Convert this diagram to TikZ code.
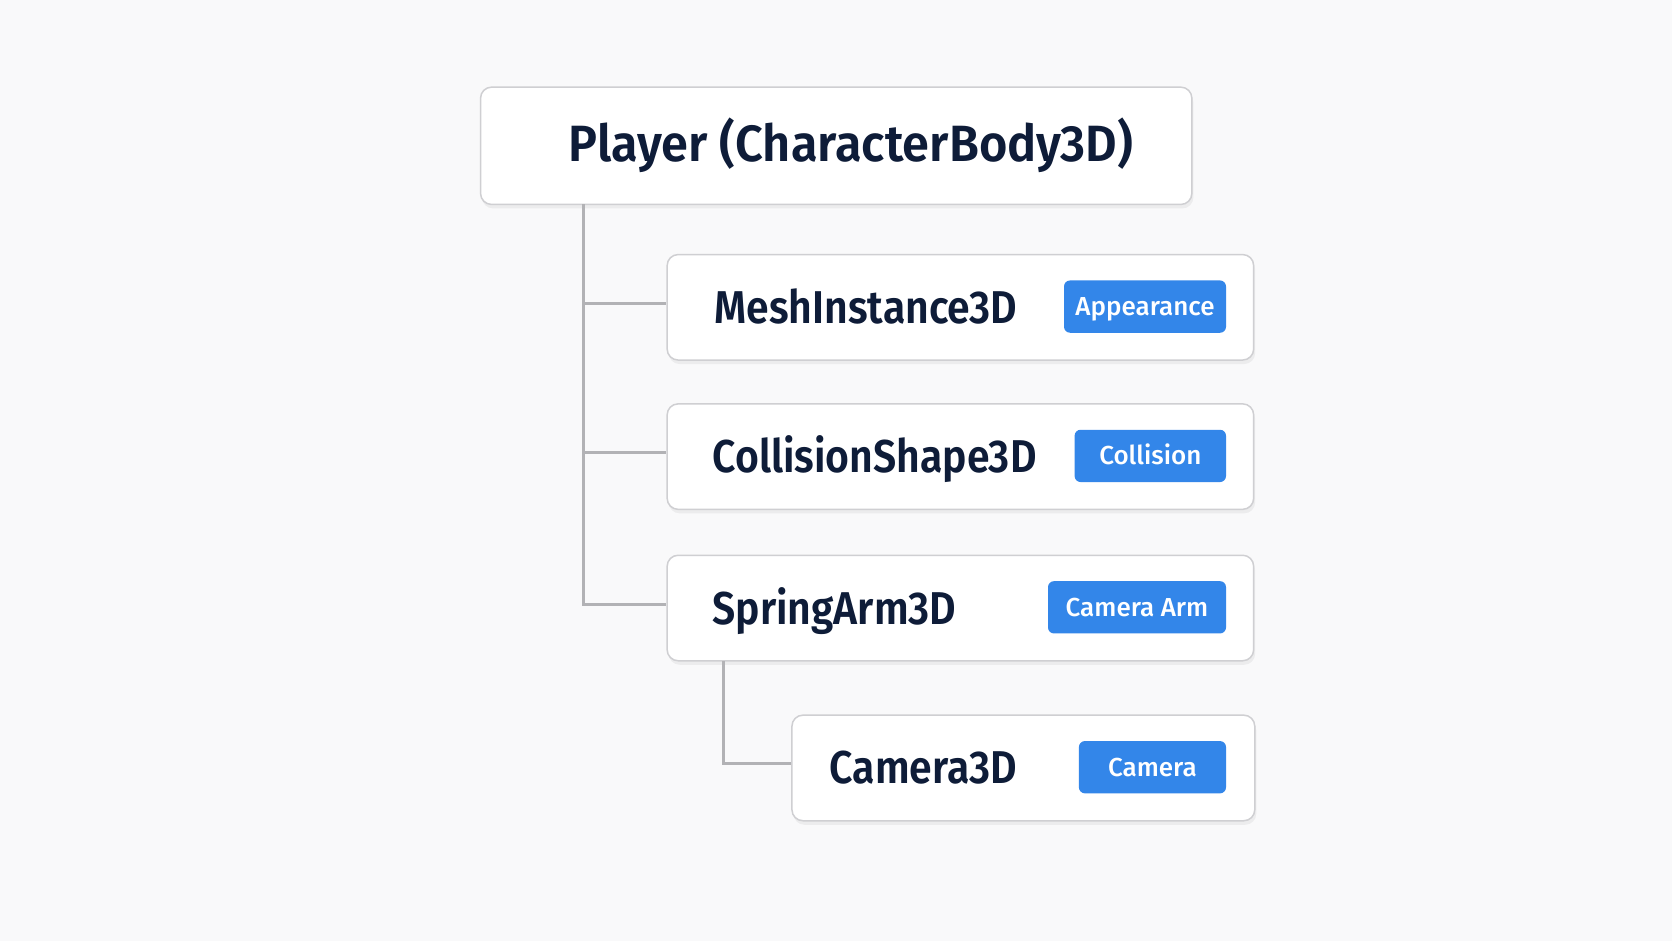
\documentclass[tikz,border=0pt]{standalone}
\usepackage{fontspec}
\setmainfont{Fira Sans}
\newfontfamily\semib{Fira Sans SemiBold}[FakeStretch=0.89]
\newfontfamily\semibt{Fira Sans SemiBold}[FakeStretch=0.955]
\newfontfamily\medf{Fira Sans Medium}
\usetikzlibrary{shadows}
\definecolor{bgc}{HTML}{F9F9FA}
\definecolor{txt}{HTML}{0E1C38}
\definecolor{tagc}{HTML}{3386E9}
\definecolor{bord}{HTML}{CFCFD2}
\definecolor{linec}{HTML}{B2B2B5}
\tikzset{
  box/.style={draw=bord, line width=1.5pt, fill=white, rounded corners=11pt,
    drop shadow={opacity=0.10, shadow xshift=1.5pt, shadow yshift=-4pt},
    inner sep=0pt, anchor=north west},
  lbl/.style={anchor=west, text=txt, inner sep=0pt, text height=31.7pt, text depth=0pt,
    font=\semib\fontsize{46}{50}\selectfont},
  tag/.style={fill=tagc, rounded corners=6pt, text=white, inner sep=0pt,
    text height=17.9pt, text depth=0pt,
    minimum height=52.3pt, anchor=east, font=\medf\fontsize{26}{30}\selectfont},
  conn/.style={draw=linec, line width=3pt},
}
\begin{document}
\begin{tikzpicture}[x=1pt,y=-1pt]
\fill[bgc] (0,0) rectangle (1672,941);
\useasboundingbox (0,0) rectangle (1672,941);
% top
\node[box, minimum width=711.3pt, minimum height=117.3pt] (top) at (479.8,86.4) {};
\node[lbl, text height=35pt, font=\semibt\fontsize{51}{54}\selectfont] (toptxt) at (568.3,144.5) {Player (CharacterBody3D)};
% children
\node[box, minimum width=586.5pt, minimum height=105.5pt] (mesh) at (666.4,253.8) {};
\node[lbl] (meshtxt) at (714.4,307.5) {MeshInstance3D};
\node[tag, minimum width=162pt] (meshtag) at (1226.2,306.6) {Appearance};

\node[box, minimum width=586.5pt, minimum height=105.5pt] (coll) at (666.4,403.1) {};
\node[lbl] (colltxt) at (712.3,456.8) {CollisionShape3D};
\node[tag, minimum width=151.4pt] (colltag) at (1226.2,455.9) {Collision};

\node[box, minimum width=586.5pt, minimum height=105.5pt] (spring) at (666.4,554.5) {};
\node[lbl] (springtxt) at (712.3,608.2) {SpringArm3D};
\node[tag, minimum width=178pt] (springtag) at (1226.2,607.3) {Camera Arm};

\node[box, minimum width=462.8pt, minimum height=105.6pt] (cam) at (791.2,714.4) {};
\node[lbl] (camtxt) at (829.6,768.1) {Camera3D};
\node[tag, minimum width=147.1pt] (camtag) at (1226.2,767.2) {Camera};

% connectors
\coordinate (trunk) at (583.3,204.5);
\coordinate (trunkb) at (723.0,661);
\draw[conn] (trunk) |- ([yshift=4pt]mesh.west);
\draw[conn] (trunk) |- ([yshift=4pt]coll.west);
\draw[conn] (trunk) |- ([yshift=4pt]spring.west);
\draw[conn] (trunkb) |- ([yshift=4pt]cam.west);
\end{tikzpicture}
\end{document}
